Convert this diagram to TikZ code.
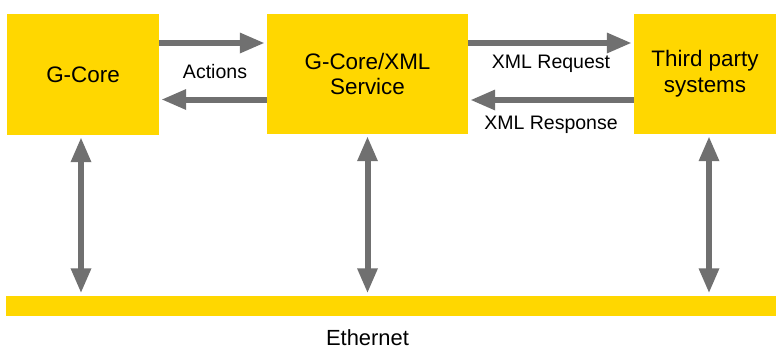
\documentclass[tikz,border=0pt]{standalone}
\usepackage{fontspec}
\setmainfont{Liberation Sans}
\usetikzlibrary{arrows.meta}
\definecolor{gold}{HTML}{FFD700}
\definecolor{arrowgray}{HTML}{707070}
\tikzset{
    box/.style={fill=gold, inner sep=0pt, align=center, font=\fontsize{22.5}{26}\selectfont},
    lbl/.style={font=\fontsize{19.6}{22}\selectfont},
    link/.style={draw=white, line width=9bp, {Triangle[length=27bp,width=21bp]}-{Triangle[length=27bp,width=21bp]}, shorten <=0.5bp, shorten >=0.5bp,
        postaction={draw=arrowgray, line width=6bp, {Triangle[length=25bp,width=19bp]}-{Triangle[length=25bp,width=19bp]}, shorten <=2bp, shorten >=2bp}},
    oneway/.style={draw=white, line width=9bp, -{Triangle[length=27bp,width=21bp]}, shorten >=0.5bp,
        postaction={draw=arrowgray, line width=6bp, -{Triangle[length=25bp,width=19bp]}, shorten >=2bp}}
}

\begin{document}
\begin{tikzpicture}[x=1bp, y=-1bp]
    \useasboundingbox (0, 0) rectangle (776, 348);

    \node (gcore) [box, minimum width=152bp, minimum height=121bp] at (83, 74.5) {G-Core};
    \node (service) [box, minimum width=201bp, minimum height=120bp] at (367.5, 74) {G-Core/XML\\Service};
    \node (third) [box, minimum width=142bp, minimum height=120bp] at (705, 74) {Third party\\systems};
    \node (ether) [fill=gold, inner sep=0pt, minimum width=770bp, minimum height=20bp] at (391, 305.5) {};
    \node (etherlabel) [font=\fontsize{22}{24}\selectfont, anchor=base, inner sep=0pt] at (367.5, 345) {Ethernet};

    % horizontal links
    \draw[oneway] ([yshift=31.5bp]gcore.east) -- ([yshift=31.5bp]gcore.east -| service.west);
    \draw[oneway] ([yshift=-25.5bp]service.west) -- ([yshift=-25.5bp]service.west -| gcore.east);
    \node (actions) [lbl] at (215, 72) {Actions};

    \draw[oneway] ([yshift=31bp]service.east) -- ([yshift=31bp]service.east -| third.west);
    \draw[oneway] ([yshift=-26bp]third.west) -- ([yshift=-26bp]third.west -| service.east);
    \node (request) [lbl] at (551, 64) {XML Request};
    \node (response) [lbl] at (551, 125) {XML Response};

    % links to the bus
    \draw[link] ([xshift=-2bp]gcore.south) -- ([xshift=-2bp]gcore.south |- ether.north);
    \draw[link] (service.south) -- (service.south |- ether.north);
    \draw[link] ([xshift=4bp]third.south) -- ([xshift=4bp]third.south |- ether.north);
\end{tikzpicture}
\end{document}
